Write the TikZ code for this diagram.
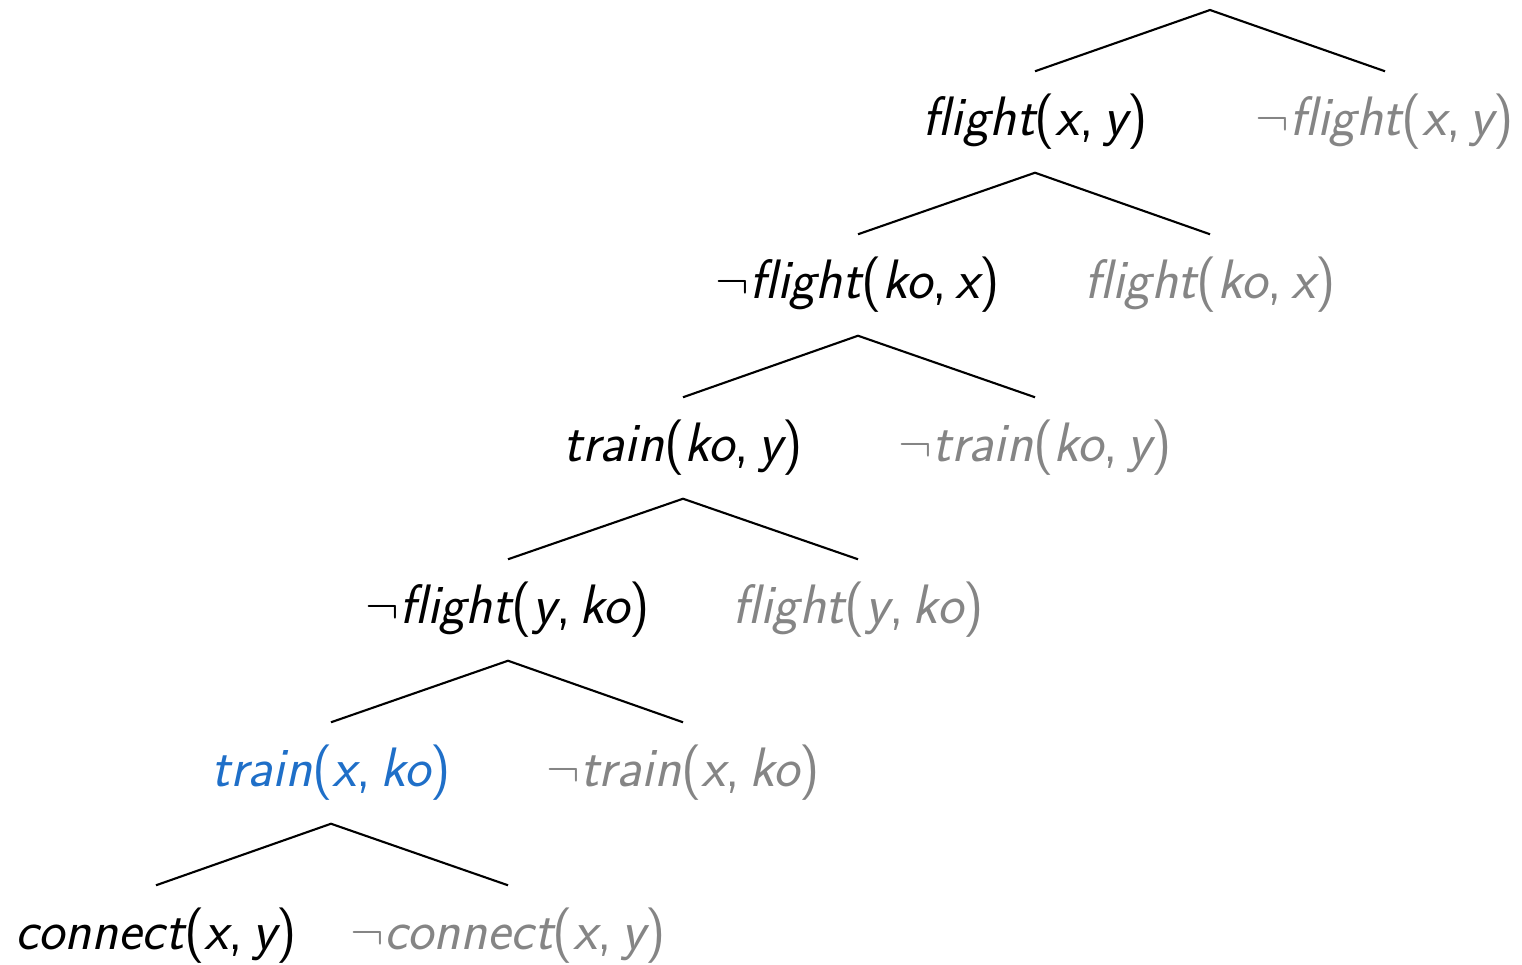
\documentclass[tikz,border=0pt]{standalone}
\usepackage{fontspec}
\usepackage{tikz}
\usetikzlibrary{positioning}
\definecolor{litGray}{HTML}{858585}
\definecolor{litBlue}{HTML}{1F6FC8}
\newcommand{\va}[1]{{\itshape #1}}
\newcommand{\lit}[3]{\va{#1}(\va{#2},\,\va{#3})}
\newcommand{\nlit}[3]{$\neg$\lit{#1}{#2}{#3}}

\begin{document}
\begin{tikzpicture}[
  x=0.01cm, y=-0.01cm,
  lit/.style={font=\sffamily\fontsize{15.8}{19}\selectfont, minimum height=1cm, inner sep=1pt, text=black},
  alt/.style={lit, text=litGray},
  pick/.style={lit, text=litBlue},
  br/.style={semithick, color=black}
]
  \useasboundingbox (0,0) rectangle (1522,964);
  \coordinate (top) at (1210,10);

  \node[lit] (l1) at (1035,122) {\lit{flight}{x}{y}};
  \node[alt] (r1) at (1385,122) {\nlit{flight}{x}{y}};
  \node[lit] (l2) at (858,285) {\nlit{flight}{ko}{x}};
  \node[alt] (r2) at (1210,285) {\lit{flight}{ko}{x}};
  \node[lit] (l3) at (683,448) {\lit{train}{ko}{y}};
  \node[alt] (r3) at (1035,448) {\nlit{train}{ko}{y}};
  \node[lit] (l4) at (508,610) {\nlit{flight}{y}{ko}};
  \node[alt] (r4) at (858,610) {\lit{flight}{y}{ko}};
  \node[pick] (l5) at (331,773) {\lit{train}{x}{ko}};
  \node[alt] (r5) at (683,773) {\nlit{train}{x}{ko}};
  \node[lit] (l6) at (156,936) {\lit{connect}{x}{y}};
  \node[alt] (r6) at (508,936) {\nlit{connect}{x}{y}};

  % branches
  \draw[br] (l1.north) -- (top) -- (r1.north);
  \draw[br] (l2.north) -- (l1.south) -- (r2.north);
  \draw[br] (l3.north) -- (l2.south) -- (r3.north);
  \draw[br] (l4.north) -- (l3.south) -- (r4.north);
  \draw[br] (l5.north) -- (l4.south) -- (r5.north);
  \draw[br] (l6.north) -- (l5.south) -- (r6.north);
\end{tikzpicture}
\end{document}
